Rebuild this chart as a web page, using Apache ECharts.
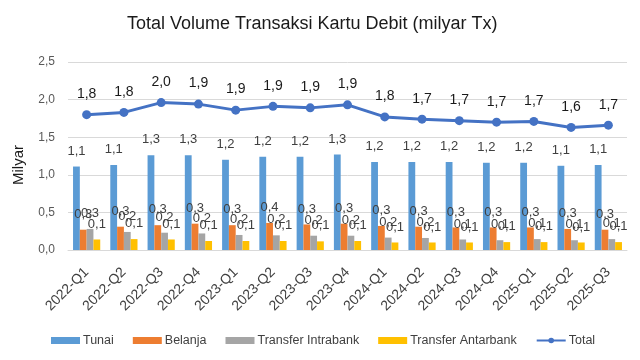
<!DOCTYPE html>
<html>
<head>
<meta charset="utf-8">
<script src="https://cdn.jsdelivr.net/npm/echarts@6/dist/echarts.min.js"></script>
<style>
html,body{margin:0;padding:0;background:#fff;}
#chart{width:640px;height:360px;}
</style>
</head>
<body>
<div id="chart"></div>
<script>
var categories = ['2022-Q1','2022-Q2','2022-Q3','2022-Q4','2023-Q1','2023-Q2','2023-Q3','2023-Q4','2024-Q1','2024-Q2','2024-Q3','2024-Q4','2025-Q1','2025-Q2','2025-Q3'];
var tunai      = [1.11,1.13,1.26,1.26,1.20,1.24,1.24,1.27,1.17,1.17,1.17,1.16,1.16,1.12,1.13];
var belanja    = [0.27,0.31,0.33,0.35,0.33,0.36,0.34,0.35,0.32,0.31,0.30,0.30,0.30,0.28,0.27];
var intrabank  = [0.28,0.24,0.23,0.22,0.20,0.195,0.19,0.19,0.165,0.16,0.14,0.13,0.145,0.13,0.145];
var antarbank  = [0.14,0.145,0.14,0.12,0.12,0.12,0.115,0.12,0.10,0.10,0.10,0.105,0.105,0.10,0.105];
var total      = [1.80,1.83,1.96,1.94,1.86,1.91,1.89,1.93,1.77,1.74,1.72,1.70,1.71,1.63,1.66];
var yTicks     = ['0,0','0,5','1,0','1,5','2,0','2,5'];

var FONT = 'Liberation Sans, Arial, sans-serif';
function fmt(v){ return v.toFixed(1).replace('.', ','); }
var chart = echarts.init(document.getElementById('chart'), null, {renderer:'canvas'});

function barSeries(name, data, color){
  return {
    name: name, type: 'bar', data: data, barGap: '0%', barCategoryGap: '27%',
    itemStyle: {color: color},
    label: {show: true, position: 'top', distance: 9, color: '#404040', fontSize: 13, fontFamily: FONT,
      formatter: function(p){ return fmt(p.value); }}
  };
}

chart.setOption({
  animation: false,
  backgroundColor: '#fff',
  title: {
    text: 'Total Volume Transaksi Kartu Debit (milyar Tx)',
    left: 122, top: 10,
    textStyle: {fontSize: 18, fontWeight: 'normal', color: '#1a1a1a', fontFamily: FONT}
  },
  grid: {left: 68, right: 13, top: 62, bottom: 110, containLabel: false},
  legend: {
    bottom: 8, left: 46, itemGap: 19, itemWidth: 29, itemHeight: 7,
    textStyle: {fontSize: 12.5, color: '#404040', fontFamily: FONT, padding: [0,0,0,-2]},
    data: [
      {name:'Tunai', icon:'rect'},
      {name:'Belanja', icon:'rect'},
      {name:'Transfer Intrabank', icon:'rect'},
      {name:'Transfer Antarbank', icon:'rect'},
      {name:'Total'}
    ]
  },
  xAxis: {
    type: 'category', data: categories,
    axisLine: {lineStyle: {color: '#d9d9d9'}},
    axisTick: {show: false},
    axisLabel: {rotate: 45, fontSize: 14, color: '#404040', fontFamily: FONT, margin: 20, interval: 0}
  },
  yAxis: {
    type: 'value', min: 0, max: 2.5, interval: 0.5,
    axisLine: {show: false}, axisTick: {show: false},
    splitLine: {lineStyle: {color: '#d9d9d9'}},
    axisLabel: {fontSize: 12, color: '#595959', fontFamily: FONT, margin: 13,
      formatter: function(v){ return yTicks[Math.round(v/0.5)]; }}
  },
  graphic: [{
    type: 'text', x: 19, y: 165, rotation: Math.PI/2,
    style: {text: 'Milyar', fontSize: 15, fill: '#1a1a1a', fontFamily: FONT, align: 'center', verticalAlign: 'middle'}
  }],
  series: [
    barSeries('Tunai', tunai, '#5b9bd5'),
    barSeries('Belanja', belanja, '#ed7d31'),
    barSeries('Transfer Intrabank', intrabank, '#a5a5a5'),
    barSeries('Transfer Antarbank', antarbank, '#ffc000'),
    {
      name: 'Total', type: 'line', data: total,
      symbol: 'circle', symbolSize: 9,
      lineStyle: {color: '#4472c4', width: 3},
      itemStyle: {color: '#4472c4'},
      label: {show: true, position: 'top', distance: 9, color: '#1a1a1a', fontSize: 14, fontFamily: FONT,
        formatter: function(p){ return fmt(p.value); }}
    }
  ]
});
</script>
</body>
</html>
